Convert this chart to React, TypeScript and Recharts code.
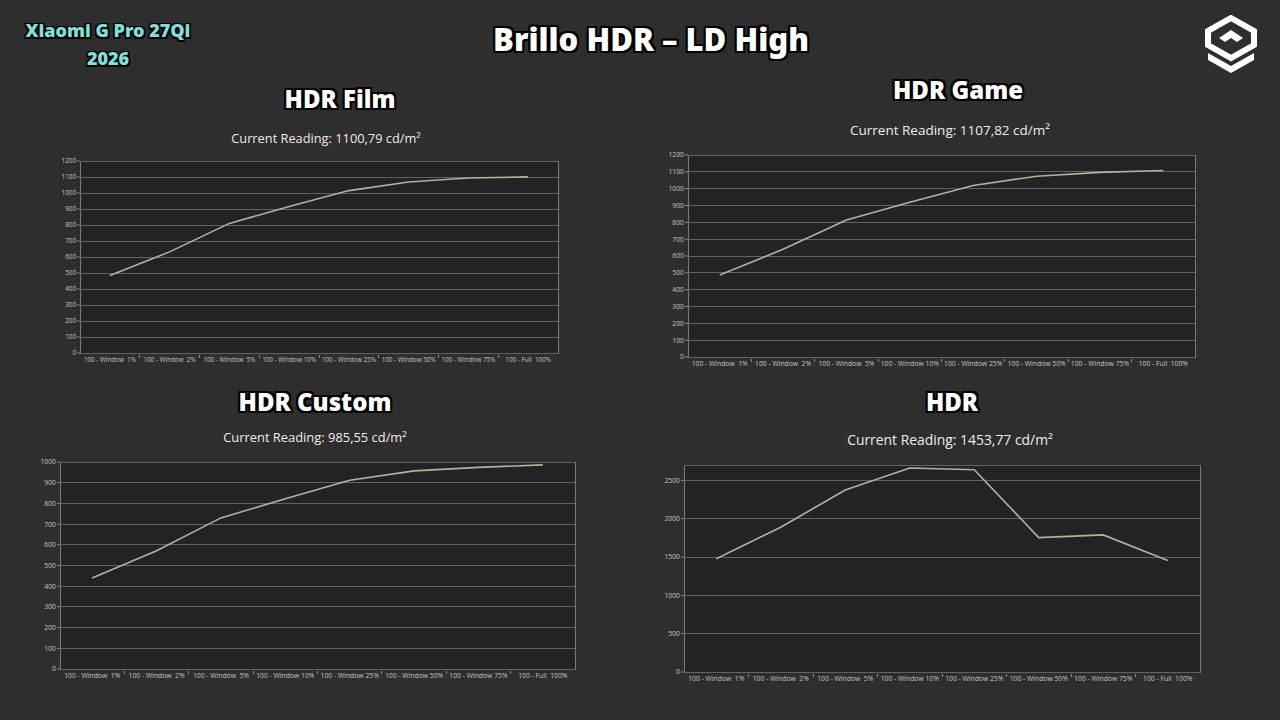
import React from "react";
import { LineChart, Line, XAxis, YAxis, CartesianGrid } from "recharts";

// ─── Data ─────────────────────────────────────────────────────────────────────
const categories = [
  "100 - Window  1%",
  "100 - Window  2%",
  "100 - Window  5%",
  "100 - Window 10%",
  "100 - Window 25%",
  "100 - Window 50%",
  "100 - Window 75%",
  "100 - Full  100%",
];

const filmValues = [484, 632, 810, 915, 1015, 1069, 1094, 1101];
const gameValues = [487, 640, 814, 919, 1019, 1074, 1097, 1108];
const customValues = [440, 571, 730, 822, 912, 957, 974, 986];
const hdrValues = [1476, 1888, 2374, 2661, 2639, 1753, 1788, 1454];

const ticks1200 = [0, 100, 200, 300, 400, 500, 600, 700, 800, 900, 1000, 1100, 1200];
const ticks1000 = [0, 100, 200, 300, 400, 500, 600, 700, 800, 900, 1000];
const ticksHdr = [0, 500, 1000, 1500, 2000, 2500];

const readings = ["1100,79", "1107,82", "985,55", "1453,77"];

const BG = "#2e2e2e";
const PLOT_BG = "#232323";
const GRID = "#626262";
const LINE = "#b3b1a0";
const AXIS_TEXT = "#c4c4c4";

const outline = (w: number) =>
  [
    `${w}px 0 0 #000`,
    `-${w}px 0 0 #000`,
    `0 ${w}px 0 #000`,
    `0 -${w}px 0 #000`,
    `${w}px ${w}px 0 #000`,
    `-${w}px ${w}px 0 #000`,
    `${w}px -${w}px 0 #000`,
    `-${w}px -${w}px 0 #000`,
  ].join(",");

type Box = { x: number; y: number; w: number; h: number };

// ─── X tick with separator marks ─────────────────────────────────────────────
const XTick = ({ x, y, payload, index, step, fs }: any) => (
  <g>
    {index > 0 && (
      <line
        x1={x - step / 2}
        x2={x - step / 2}
        y1={y - 4}
        y2={y - 1}
        stroke="#8a8a8a"
        shapeRendering="crispEdges"
      />
    )}
    <text
      x={x}
      y={y + 3}
      textAnchor="middle"
      fontSize={fs}
      fill={AXIS_TEXT}
      fontFamily="'Open Sans', sans-serif"
      style={{ whiteSpace: "pre" }}
    >
      {payload.value}
    </text>
  </g>
);

// ─── One panel ────────────────────────────────────────────────────────────────
const Panel = ({
  values,
  ticks,
  max,
  box,
  fs,
}: {
  values: number[];
  ticks: number[];
  max: number;
  box: Box;
  fs: number;
}) => {
  const data = categories.map((c, i) => ({ cat: c, v: values[i] }));
  const step = box.w / categories.length;
  return (
    <>
      <div
        style={{
          position: "absolute",
          left: box.x,
          top: box.y,
          width: box.w + 1,
          height: box.h + 1,
          background: PLOT_BG,
          border: `1px solid #7a7a7a`,
          boxSizing: "border-box",
        }}
      />
      <div style={{ position: "absolute", left: box.x - 40, top: box.y - 5 }}>
        <LineChart
          width={box.w + 45}
          height={box.h + 25}
          data={data}
          margin={{ top: 5, right: 5, bottom: 0, left: 0 }}
        >
          <CartesianGrid vertical={false} stroke={GRID} shapeRendering="crispEdges" />
          <XAxis
            dataKey="cat"
            height={20}
            interval={0}
            axisLine={false}
            tickLine={false}
            tickSize={4}
            padding={{ left: step / 2, right: step / 2 }}
            tick={<XTick step={step} fs={fs} />}
          />
          <YAxis
            width={40}
            domain={[0, max]}
            ticks={ticks}
            interval={0}
            axisLine={false}
            tickLine={{ stroke: "#8a8a8a" }}
            tickSize={3}
            tickMargin={1}
            tick={{ fontSize: fs, fill: AXIS_TEXT, fontFamily: "'Open Sans', sans-serif" }}
          />
          <Line
            type="linear"
            dataKey="v"
            stroke={LINE}
            strokeWidth={1.6}
            dot={false}
            isAnimationActive={false}
          />
        </LineChart>
      </div>
    </>
  );
};

const Heading = ({ text, cx, cy, size }: { text: string; cx: number; cy: number; size: number }) => (
  <div
    style={{
      position: "absolute",
      left: cx - 300,
      width: 600,
      top: cy - size * 0.7,
      textAlign: "center",
      fontFamily: "'Noto Sans', sans-serif",
      fontWeight: 900,
      fontSize: size,
      lineHeight: `${size * 1.4}px`,
      color: "#fff",
      textShadow: outline(2),
    }}
  >
    {text}
  </div>
);

const Reading = ({ value, cx, cy, size }: { value: string; cx: number; cy: number; size: number }) => (
  <div
    style={{
      position: "absolute",
      left: cx - 200,
      width: 400,
      top: cy - 10,
      textAlign: "center",
      fontFamily: "'Open Sans', sans-serif",
      fontSize: size,
      lineHeight: "20px",
      color: "#ececec",
    }}
  >
    Current Reading: {value} cd/m²
  </div>
);

const Logo = () => (
  <svg
    width={56}
    height={60}
    viewBox="0 0 56 60"
    style={{ position: "absolute", left: 1203, top: 15 }}
  >
    <polygon points="28,3 51,16 51,30 28,43 5,30 5,16" fill="none" stroke="#fff" strokeWidth={6} />
    <polygon points="28,15 40,23 34,27 28,23 22,27 16,23" fill="#fff" />
    <polygon points="5,38 28,51 51,38 51,45 28,58 5,45" fill="#fff" />
  </svg>
);

export default function App() {
  return (
    <div
      style={{
        position: "absolute",
        left: 0,
        top: 0,
        width: 1280,
        height: 720,
        background: BG,
        overflow: "hidden",
      }}
    >
      <div
        style={{
          position: "absolute",
          left: 8,
          width: 200,
          top: 16,
          textAlign: "center",
          fontFamily: "'Noto Sans', sans-serif",
          fontWeight: 900,
          fontSize: 18,
          lineHeight: "28px",
          color: "#7fe0dc",
          textShadow: outline(1.5),
        }}
      >
        Xiaomi G Pro 27Qi
        <br />
        2026
      </div>
      <Heading text="Brillo HDR – LD High" cx={651} cy={40} size={31} />
      <Logo />

      <Heading text="HDR Film" cx={340} cy={99} size={24} />
      <Reading value={readings[0]} cx={326} cy={138} size={12.8} />
      <Panel values={filmValues} ticks={ticks1200} max={1200} box={{ x: 80, y: 161, w: 478, h: 192 }} fs={6.3} />

      <Heading text="HDR Game" cx={958} cy={90} size={24} />
      <Reading value={readings[1]} cx={950} cy={130} size={13.5} />
      <Panel values={gameValues} ticks={ticks1200} max={1200} box={{ x: 688, y: 155, w: 507, h: 202 }} fs={6.8} />

      <Heading text="HDR Custom" cx={315} cy={402} size={24} />
      <Reading value={readings[2]} cx={315} cy={437} size={12.9} />
      <Panel values={customValues} ticks={ticks1000} max={1000} box={{ x: 60, y: 462, w: 515, h: 207 }} fs={6.8} />

      <Heading text="HDR" cx={952} cy={402} size={24} />
      <Reading value={readings[3]} cx={950} cy={440} size={13.9} />
      <Panel values={hdrValues} ticks={ticksHdr} max={2700} box={{ x: 684, y: 465, w: 516, h: 207 }} fs={6.8} />
    </div>
  );
}
